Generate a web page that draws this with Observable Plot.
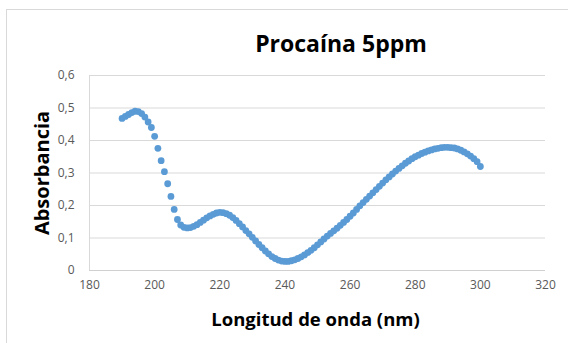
<!DOCTYPE html>
<html>
<head>
<meta charset="utf-8">
<script src="https://cdn.jsdelivr.net/npm/d3@7"></script>
<script src="https://cdn.jsdelivr.net/npm/@observablehq/plot@0.6"></script>
<style>
  html, body { margin: 0; padding: 0; background: #fff; }
  body { width: 568px; height: 343px; overflow: hidden; position: relative; font-family: "Open Sans", sans-serif; }
  #frame { position: absolute; left: 6px; top: 9px; width: 700px; height: 500px; border-left: 1px solid #d9d9d9; border-top: 1px solid #d9d9d9; }
  #title { position: absolute; left: 141px; width: 400px; top: 28px; text-align: center; font-size: 23px; font-weight: 700; color: #000; line-height: 30px; }
  #chart { position: absolute; left: 0; top: 60px; }
</style>
</head>
<body>
<div id="frame"></div>
<div id="title">Procaína 5ppm</div>
<div id="chart"></div>
<script>
const wavelengths = d3.range(190, 301);
const absorbance = [
  0.468, 0.474, 0.480, 0.486, 0.490, 0.489, 0.483, 0.472, 0.457, 0.440,
  0.413, 0.376, 0.338, 0.304, 0.267, 0.228, 0.188, 0.157, 0.140, 0.133,
  0.131, 0.132, 0.136, 0.141, 0.148, 0.155, 0.162, 0.168, 0.173, 0.177,
  0.179, 0.178, 0.175, 0.170, 0.163, 0.154, 0.144, 0.134, 0.123, 0.113,
  0.102, 0.091, 0.080, 0.070, 0.060, 0.051, 0.043, 0.037, 0.032, 0.029,
  0.028, 0.028, 0.030, 0.033, 0.037, 0.042, 0.048, 0.055, 0.062, 0.070,
  0.079, 0.088, 0.097, 0.106, 0.114, 0.122, 0.130, 0.139, 0.148, 0.157,
  0.167, 0.177, 0.188, 0.199, 0.209, 0.219, 0.229, 0.239, 0.249, 0.259,
  0.269, 0.279, 0.288, 0.297, 0.306, 0.314, 0.322, 0.330, 0.337, 0.344,
  0.350, 0.355, 0.360, 0.364, 0.368, 0.371, 0.374, 0.376, 0.378, 0.379,
  0.379, 0.378, 0.377, 0.374, 0.370, 0.365, 0.359, 0.352, 0.344, 0.335,
  0.320
];
const xTicks = [180, 200, 220, 240, 260, 280, 300, 320];
const yTicks = [0, 0.1, 0.2, 0.3, 0.4, 0.5, 0.6];
const yTickLabels = ["0", "0,1", "0,2", "0,3", "0,4", "0,5", "0,6"];
const xTitle = "Longitud de onda (nm)";
const yTitle = "Absorbancia";

const data = wavelengths.map((w, i) => ({w, a: absorbance[i]}));

const chart = Plot.plot({
  width: 568,
  height: 283,
  marginTop: 15,
  marginLeft: 89,
  marginRight: 23,
  marginBottom: 73,
  style: {fontFamily: "'Open Sans', sans-serif", background: "transparent"},
  x: {domain: [180, 320], label: null},
  y: {domain: [0, 0.6], label: null},
  marks: [
    Plot.gridY(yTicks, {stroke: "#d9d9d9", strokeOpacity: 1}),
    Plot.ruleX([180], {stroke: "#d9d9d9"}),
    Plot.ruleY([0], {stroke: "#d0d0d0"}),
    Plot.axisX(xTicks, {tickSize: 0, tickPadding: 10, fontSize: 12, fill: "#595959", label: null}),
    Plot.axisY(yTicks, {tickSize: 0, tickPadding: 15, fontSize: 12, fill: "#595959", label: null,
      tickFormat: (d) => yTickLabels[yTicks.indexOf(d)]}),
    Plot.dot(data, {x: "w", y: "a", r: 3.4, fill: "#5b9bd5", stroke: "none"}),
    Plot.text([yTitle], {frameAnchor: "left", textAnchor: "middle", rotate: -90, dx: -47, fontSize: 20, fontWeight: 700, fill: "#000"}),
    Plot.text([xTitle], {frameAnchor: "bottom", textAnchor: "middle", dy: 55, dx: -2, fontSize: 18.5, fontWeight: 700, fill: "#000"})
  ]
});
document.getElementById("chart").appendChild(chart);
</script>
</body>
</html>
